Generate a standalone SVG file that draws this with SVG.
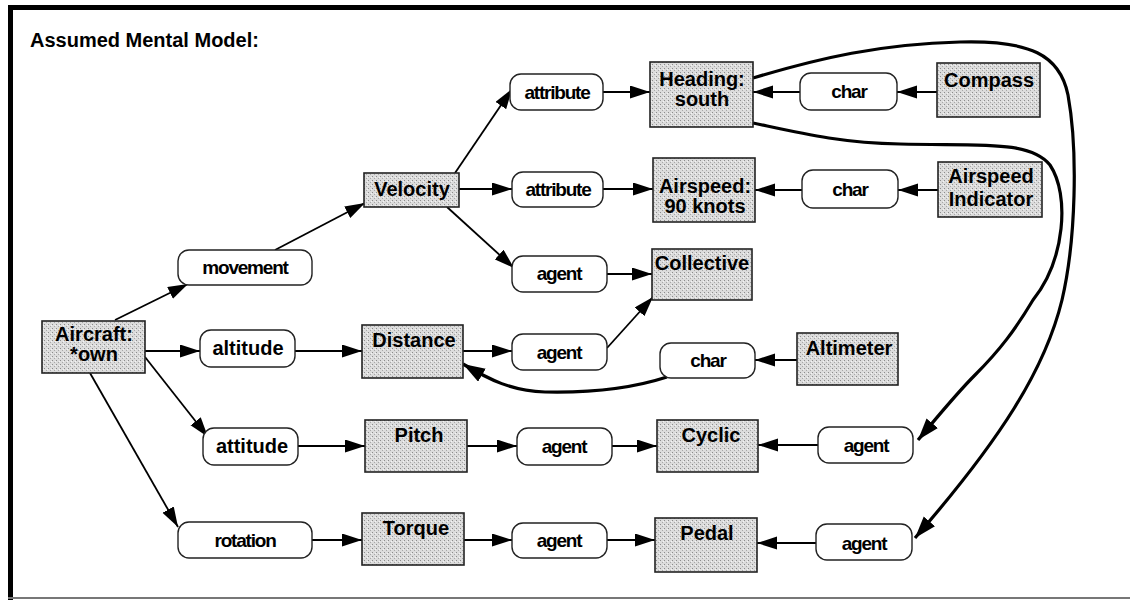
<svg xmlns="http://www.w3.org/2000/svg" width="1130" height="600" viewBox="0 0 1130 600">
<defs>
<pattern id="stip" width="4" height="4" patternUnits="userSpaceOnUse">
<rect width="4" height="4" fill="#dcdcdc"/>
<rect x="0" y="0" width="1" height="1" fill="#8c8c8c"/>
<rect x="2" y="2" width="1" height="1" fill="#a8a8a8"/>
<rect x="3" y="1" width="1" height="1" fill="#f4f4f4"/>
</pattern>
<marker id="ah" markerUnits="userSpaceOnUse" markerWidth="22" markerHeight="14" refX="20" refY="6.5" orient="auto">
<path d="M0,0 L20,6.5 L0,13 z" fill="#000"/>
</marker>
<marker id="ahb" markerUnits="userSpaceOnUse" markerWidth="24" markerHeight="16" refX="22" refY="7.5" orient="auto">
<path d="M0,0 L22,7.5 L0,15 z" fill="#000"/>
</marker>
</defs>
<style>
.box{fill:url(#stip);stroke:#222;stroke-width:1.6}
.ov{fill:#fff;stroke:#222;stroke-width:1.4}
.bt{font-family:"Liberation Sans",Arial,sans-serif;font-weight:bold;font-size:20px;fill:#000;text-anchor:middle}
.ot{font-family:"Liberation Sans",Arial,sans-serif;font-weight:bold;font-size:19px;letter-spacing:-1.2px;fill:#000;text-anchor:middle}
.ot2{font-family:"Liberation Sans",Arial,sans-serif;font-weight:bold;font-size:20px;fill:#000;text-anchor:middle}
.ln{fill:none;stroke:#000;stroke-width:1.8;marker-end:url(#ah)}
.th{fill:none;stroke:#000;stroke-width:3.2;marker-end:url(#ahb)}
</style>
<rect width="1130" height="600" fill="#fff"/>
<g id="frame">
<rect x="8" y="5" width="1122" height="5" fill="#000"/>
<rect x="8" y="5" width="5" height="595" fill="#000"/>
<rect x="8" y="597" width="1122" height="2" fill="#777"/>
</g>
<text x="30" y="47" font-family="Liberation Sans, Arial, sans-serif" font-weight="bold" font-size="20">Assumed Mental Model:</text>

<g id="connectors">
<path class="ln" d="M115,320 L188,284"/>
<path class="ln" d="M275,250 L365,203"/>
<path class="ln" d="M455,173 L512,89"/>
<path class="ln" d="M459,189 L512,189"/>
<path class="ln" d="M447,207 L514,268"/>
<path class="ln" d="M603,92 L650,92"/>
<path class="ln" d="M603,189 L653,189"/>
<path class="ln" d="M607,274 L652,274"/>
<path class="ln" d="M937,92 L897,92"/>
<path class="ln" d="M800,92 L753,92"/>
<path class="ln" d="M938,190 L898,190"/>
<path class="ln" d="M802,190 L755,190"/>
<path class="ln" d="M145,351 L200,351"/>
<path class="ln" d="M295,351 L362,351"/>
<path class="ln" d="M463,351 L512,351"/>
<path class="ln" d="M607,348 L653,297"/>
<path class="ln" d="M797,360 L755,360"/>
<path class="th" d="M667,377 C630,389 590,393 545,392 C512,391 490,380 463,364"/>
<path class="ln" d="M145,357 L208,437"/>
<path class="ln" d="M298,446 L365,446"/>
<path class="ln" d="M467,446 L517,446"/>
<path class="ln" d="M612,446 L657,446"/>
<path class="ln" d="M818,445 L758,445"/>
<path class="ln" d="M90,373 L178,527"/>
<path class="ln" d="M312,540 L362,540"/>
<path class="ln" d="M464,540 L512,540"/>
<path class="ln" d="M607,540 L655,540"/>
<path class="ln" d="M816,543 L757,543"/>
<path class="th" d="M753,78 C820,58 880,44 960,42 C1030,40 1060,55 1068,95 C1078,150 1076,240 1062,300 C1045,370 1000,440 915,538"/>
<path class="th" d="M753,123 C800,133 840,143 900,144 C980,146 1030,140 1050,165 C1070,195 1065,260 1033,300 C1015,330 1000,350 975,375 C955,395 935,420 918,440"/>
</g>

<g id="n-aircraft"><rect class="box" x="42" y="321" width="103" height="52"/><text class="bt" x="94" y="341" font-size="19">Aircraft:</text><text class="bt" x="94" y="361" font-size="19">*own</text></g>
<g id="n-movement"><rect class="ov" x="178" y="250" width="134" height="35" rx="11"/><text class="ot" x="245" y="274">movement</text></g>
<g id="n-velocity"><rect class="box" x="364" y="173" width="95" height="34"/><text class="bt" x="412" y="196">Velocity</text></g>
<g id="n-attr1"><rect class="ov" x="510" y="74" width="93" height="36" rx="11"/><text class="ot" x="557" y="99">attribute</text></g>
<g id="n-attr2"><rect class="ov" x="512" y="172" width="91" height="35" rx="11"/><text class="ot" x="558" y="196">attribute</text></g>
<g id="n-agent-vel"><rect class="ov" x="512" y="256" width="95" height="36" rx="11"/><text class="ot" x="559" y="280">agent</text></g>
<g id="n-heading"><rect class="box" x="650" y="62" width="103" height="65"/><text class="bt" x="702" y="86">Heading:</text><text class="bt" x="702" y="106">south</text></g>
<g id="n-airspeed"><rect class="box" x="653" y="158" width="102" height="64"/><text class="bt" x="705" y="193">Airspeed:</text><text class="bt" x="705" y="213">90 knots</text></g>
<g id="n-collective"><rect class="box" x="652" y="249" width="100" height="51"/><text class="bt" x="702" y="270">Collective</text></g>
<g id="n-char1"><rect class="ov" x="800" y="73" width="97" height="37" rx="11"/><text class="ot" x="849" y="98">char</text></g>
<g id="n-compass"><rect class="box" x="937" y="63" width="103" height="54"/><text class="bt" x="989" y="87">Compass</text></g>
<g id="n-char2"><rect class="ov" x="802" y="170" width="96" height="38" rx="11"/><text class="ot" x="850" y="196">char</text></g>
<g id="n-asi"><rect class="box" x="938" y="162" width="104" height="55"/><text class="bt" x="991" y="183">Airspeed</text><text class="bt" x="991" y="206">Indicator</text></g>
<g id="n-altitude"><rect class="ov" x="200" y="330" width="95" height="37" rx="11"/><text class="ot2" x="248" y="355">altitude</text></g>
<g id="n-distance"><rect class="box" x="362" y="325" width="101" height="53"/><text class="bt" x="414" y="347">Distance</text></g>
<g id="n-agent-dist"><rect class="ov" x="512" y="334" width="95" height="36" rx="11"/><text class="ot" x="559" y="359">agent</text></g>
<g id="n-char3"><rect class="ov" x="660" y="343" width="95" height="35" rx="11"/><text class="ot" x="708" y="367">char</text></g>
<g id="n-altimeter"><rect class="box" x="797" y="333" width="101" height="52"/><text class="bt" x="849" y="355">Altimeter</text></g>
<g id="n-attitude"><rect class="ov" x="203" y="428" width="95" height="37" rx="11"/><text class="ot2" x="252" y="453">attitude</text></g>
<g id="n-pitch"><rect class="box" x="365" y="420" width="102" height="52"/><text class="bt" x="419" y="442">Pitch</text></g>
<g id="n-agent-pitch"><rect class="ov" x="517" y="428" width="95" height="37" rx="11"/><text class="ot" x="564" y="453">agent</text></g>
<g id="n-cyclic"><rect class="box" x="657" y="420" width="101" height="52"/><text class="bt" x="711" y="442">Cyclic</text></g>
<g id="n-agent-cyc"><rect class="ov" x="818" y="427" width="95" height="36" rx="11"/><text class="ot" x="866" y="452">agent</text></g>
<g id="n-rotation"><rect class="ov" x="178" y="522" width="134" height="36" rx="11"/><text class="ot" x="245" y="547">rotation</text></g>
<g id="n-torque"><rect class="box" x="362" y="513" width="102" height="52"/><text class="bt" x="416" y="535">Torque</text></g>
<g id="n-agent-torq"><rect class="ov" x="512" y="523" width="95" height="35" rx="11"/><text class="ot" x="559" y="547">agent</text></g>
<g id="n-pedal"><rect class="box" x="655" y="518" width="102" height="54"/><text class="bt" x="707" y="540">Pedal</text></g>
<g id="n-agent-ped"><rect class="ov" x="816" y="524" width="96" height="36" rx="11"/><text class="ot" x="864" y="550">agent</text></g>
</svg>
